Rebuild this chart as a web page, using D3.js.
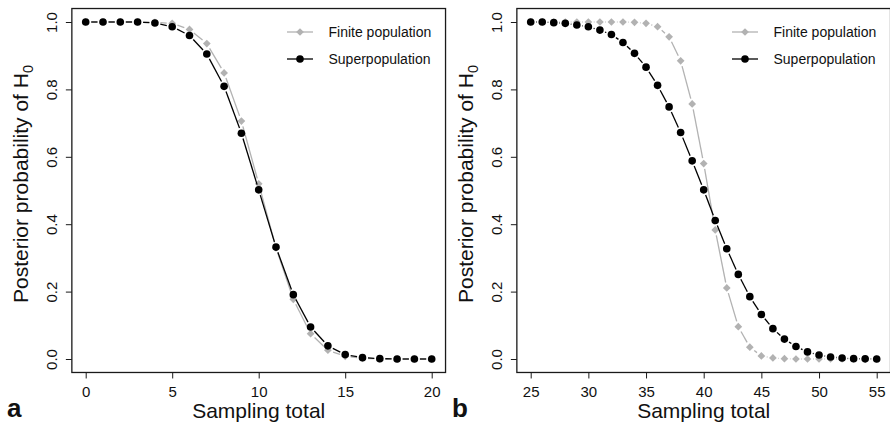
<!DOCTYPE html>
<html><head><meta charset="utf-8">
<script src="https://cdn.jsdelivr.net/npm/d3@7"></script>
<style>
html,body{margin:0;padding:0;background:#fff;}
svg{display:block;font-family:"Liberation Sans",Arial,Helvetica,sans-serif;}
</style></head>
<body>
<svg id="chart" width="890" height="423"></svg>
<script>
// ---- data ----
const seriesNames = ["Finite population", "Superpopulation"];
const xA = [0,1,2,3,4,5,6,7,8,9,10,11,12,13,14,15,16,17,18,19,20];
const finiteA = [1,1,1,1,0.999,0.996,0.978,0.936,0.849,0.706,0.52,0.33,0.177,0.075,0.026,0.008,0.002,0.0005,0,0,0];
const superA  = [1,1,1,1,0.997,0.986,0.960,0.905,0.809,0.670,0.502,0.332,0.191,0.095,0.039,0.013,0.004,0.001,0,0,0];
const xB = [25,26,27,28,29,30,31,32,33,34,35,36,37,38,39,40,41,42,43,44,45,46,47,48,49,50,51,52,53,54,55];
const finiteB = [1,1,1,1,1,1,1,1,1,0.999,0.996,0.986,0.956,0.885,0.757,0.580,0.383,0.211,0.096,0.035,0.009,0.003,0.001,0,0,0,0,0,0,0,0];
const superB  = [1,1,0.998,0.996,0.991,0.986,0.976,0.963,0.939,0.907,0.866,0.812,0.748,0.672,0.588,0.502,0.411,0.327,0.251,0.185,0.132,0.090,0.059,0.037,0.021,0.012,0.006,0.003,0.001,0.0005,0];
const xTicksA = [0,5,10,15,20];
const xTicksB = [25,30,35,40,45,50,55];
const yTicks = [0,0.2,0.4,0.6,0.8,1.0];
const panelLabels = ["a","b"];
const xTitle = "Sampling total";

const GRAY = "#b2b2b2";
const svg = d3.select("#chart");

function panel(offX, xs, fin, sup, xTicks, label) {
  const g = svg.append("g").attr("transform", `translate(${offX},0)`);
  const x0 = xs[0], x1 = xs[xs.length-1];
  const x = d3.scaleLinear().domain([x0, x1]).range([85.7, 431.7]);
  const y = d3.scaleLinear().domain([0, 1]).range([359, 22]);
  const pad = (x1 - x0) * 0.04;
  const bx0 = x(x0 - pad), bx1 = x(x1 + pad), by0 = y(1.04), by1 = y(-0.04);

  // box
  g.append("rect").attr("x", bx0).attr("y", by0).attr("width", bx1 - bx0).attr("height", by1 - by0)
    .attr("fill", "none").attr("stroke", "#1a1a1a").attr("stroke-width", 1.3);

  // x axis
  const xa = g.append("g").attr("transform", `translate(0,${by1})`)
    .call(d3.axisBottom(x).tickValues(xTicks).tickSize(6).tickPadding(7.4).tickFormat(d3.format("d")));
  xa.select(".domain").remove();
  xa.selectAll("line").attr("stroke", "#1a1a1a");
  xa.selectAll("text").attr("font-size", 15).attr("fill", "#111").style("font-family", "Liberation Sans, Arial, sans-serif");

  // y axis
  const ya = g.append("g").attr("transform", `translate(${bx0},0)`)
    .call(d3.axisLeft(y).tickValues(yTicks).tickSize(6).tickFormat(d3.format(".1f")));
  ya.select(".domain").remove();
  ya.selectAll("line").attr("stroke", "#1a1a1a");
  ya.selectAll("text").attr("x", null).attr("dy", null).attr("text-anchor", "middle")
    .attr("transform", "translate(-15,0) rotate(-90)")
    .attr("font-size", 15).attr("fill", "#111").style("font-family", "Liberation Sans, Arial, sans-serif");

  // y title
  const yt = g.append("text").attr("transform", `translate(${28},184) rotate(-90)`)
    .attr("text-anchor", "middle").attr("font-size", 21).attr("fill", "#111");
  yt.append("tspan").text("Posterior probability of H");
  yt.append("tspan").attr("font-size", 14.5).attr("dy", "0.32em").text("0");

  // x title
  g.append("text").attr("x", (bx0 + bx1) / 2).attr("y", 418).attr("text-anchor", "middle")
    .attr("font-size", 21).attr("fill", "#111").text(xTitle);

  // panel label
  g.append("text").attr("x", 7).attr("y", 417).attr("font-size", 26).attr("font-weight", "bold")
    .attr("fill", "#111").text(label);

  // type "b" lines with gaps
  const GAP = 5.5;
  function gapLines(vals, color) {
    const pts = xs.map((d, i) => [x(d), y(vals[i])]);
    for (let i = 0; i < pts.length - 1; i++) {
      const [ax, ay] = pts[i], [bx, by] = pts[i+1];
      const dx = bx - ax, dy = by - ay, L = Math.hypot(dx, dy);
      if (L <= 2 * GAP) continue;
      const ux = dx / L, uy = dy / L;
      g.append("line").attr("x1", ax + ux*GAP).attr("y1", ay + uy*GAP)
        .attr("x2", bx - ux*GAP).attr("y2", by - uy*GAP)
        .attr("stroke", color).attr("stroke-width", 1.3);
    }
  }
  function drawFinite(vals) {
    gapLines(vals, GRAY);
    g.append("g").selectAll("path").data(xs).join("path")
      .attr("transform", (d, i) => `translate(${x(d)},${y(vals[i])}) rotate(45)`)
      .attr("d", d3.symbol().type(d3.symbolSquare).size(30)())
      .attr("fill", GRAY);
  }
  function drawSuper(vals) {
    gapLines(vals, "#000");
    g.append("g").selectAll("circle").data(xs).join("circle")
      .attr("cx", d => x(d)).attr("cy", (d, i) => y(vals[i])).attr("r", 3.8).attr("fill", "#000");
  }
  drawFinite(fin);
  drawSuper(sup);

  // legend
  const lg = g.append("g");
  const rows = [32, 59];
  lg.append("line").attr("x1", 287).attr("x2", 313).attr("y1", rows[0]).attr("y2", rows[0]).attr("stroke", GRAY).attr("stroke-width", 1.3);
  lg.append("path").attr("transform", `translate(300,${rows[0]}) rotate(45)`).attr("d", d3.symbol().type(d3.symbolSquare).size(30)()).attr("fill", GRAY);
  lg.append("line").attr("x1", 287).attr("x2", 313).attr("y1", rows[1]).attr("y2", rows[1]).attr("stroke", "#000").attr("stroke-width", 1.3);
  lg.append("circle").attr("cx", 300).attr("cy", rows[1]).attr("r", 3.8).attr("fill", "#000");
  seriesNames.forEach((n, i) => {
    lg.append("text").attr("x", 328.5).attr("y", rows[i] + 5).attr("font-size", 14).attr("fill", "#111").text(n);
  });
}

panel(0, xA, finiteA, superA, xTicksA, panelLabels[0]);
panel(445, xB, finiteB, superB, xTicksB, panelLabels[1]);
</script>
</body></html>
